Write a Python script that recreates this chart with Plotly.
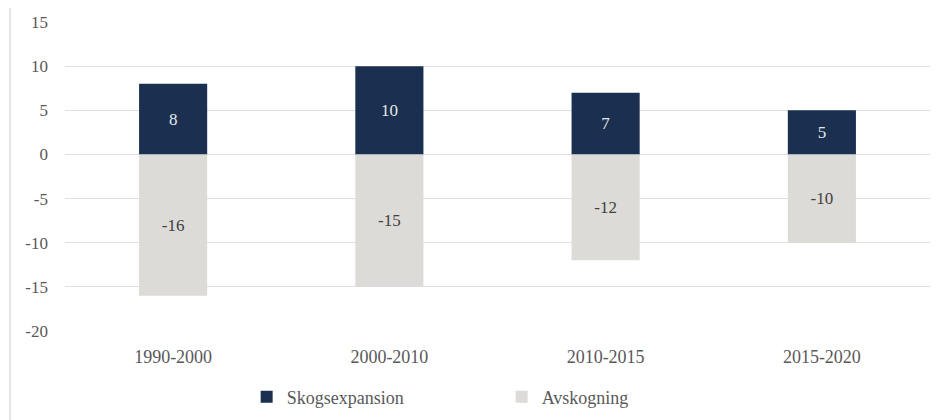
import plotly.graph_objects as go

categories = ["1990-2000", "2000-2010", "2010-2015", "2015-2020"]
skogsexpansion = [8, 10, 7, 5]
avskogning = [-16, -15, -12, -10]
y_ticks = [15, 10, 5, 0, -5, -10, -15, -20]
y_tick_labels = ["15", "10", "5", "0", "-5", "-10", "-15", "-20"]

FONT = "Liberation Serif, DejaVu Serif, serif"
fig = go.Figure()
fig.add_trace(go.Bar(
    name="Skogsexpansion", x=categories, y=skogsexpansion,
    marker=dict(color="#1b3050", line=dict(width=0)),
    text=[str(v) for v in skogsexpansion], textposition="inside",
    insidetextanchor="middle", textangle=0,
    textfont=dict(family=FONT, size=17, color="#e8e8e8"),
))
fig.add_trace(go.Bar(
    name="Avskogning", x=categories, y=avskogning,
    marker=dict(color="#dcdbd8", line=dict(width=0)),
    text=[str(v) for v in avskogning], textposition="inside",
    insidetextanchor="middle", textangle=0,
    textfont=dict(family=FONT, size=17, color="#404040"),
))

# page has an 8px body margin: figure is 936x412 placed at (8, 8)
fig.update_layout(
    barmode="relative",
    bargap=0.685,
    width=936, height=412,
    margin=dict(l=57, r=14, t=14, b=89, autoexpand=False),
    paper_bgcolor="white", plot_bgcolor="white",
    font=dict(family=FONT, size=17, color="#595959"),
    xaxis=dict(showline=False, showgrid=False, ticks="", ticklabelstandoff=13,
               automargin=False,
               tickfont=dict(family=FONT, size=18, color="#595959")),
    yaxis=dict(range=[-20, 15], tickvals=y_ticks, ticktext=y_tick_labels,
               showgrid=True, automargin=False,
               gridcolor="#e0e0e0", gridwidth=1.3, zeroline=True,
               zerolinecolor="#e0e0e0", zerolinewidth=1.3,
               ticks="", ticklabelstandoff=16,
               tickfont=dict(family=FONT, size=17, color="#595959")),
    legend=dict(orientation="h", x=0.21, xanchor="left", y=-0.2136, yanchor="middle",
                entrywidth=210, entrywidthmode="pixels",
                font=dict(family=FONT, size=18, color="#595959"),
                traceorder="normal"),
    shapes=[dict(type="line", xref="paper", yref="paper",
                 x0=-0.0636, x1=-0.0636, y0=-0.3, y1=1.1,
                 line=dict(color="#d9d9d9", width=1.5))],
)

fig.write_html("out.html")
